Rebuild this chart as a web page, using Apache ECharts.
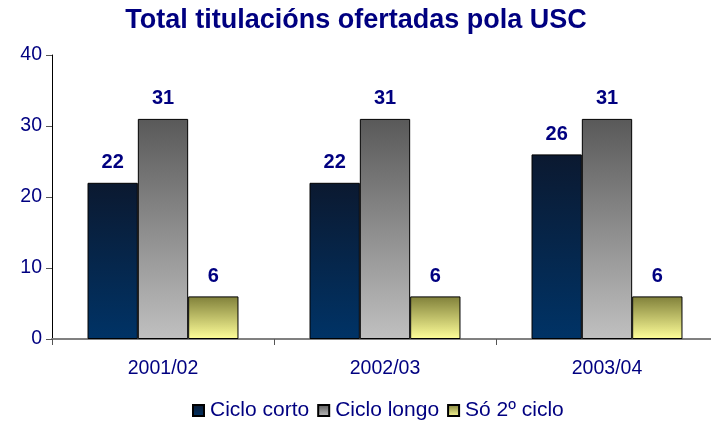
<!DOCTYPE html>
<html>
<head>
<meta charset="utf-8">
<script src="https://cdn.jsdelivr.net/npm/echarts@6/dist/echarts.min.js"></script>
<style>
  html, body { margin: 0; padding: 0; background: #fff; }
  #chart { width: 711px; height: 421px; }
</style>
</head>
<body>
<div id="chart"></div>
<script>
const categories = ["2001/02", "2002/03", "2003/04"];
const cicloCorto = [22, 22, 26];
const cicloLongo = [31, 31, 31];
const so2Ciclo = [6, 6, 6];
const yTicks = [0, 10, 20, 30, 40];

const navy = "#000080";
const font = "Liberation Sans, Arial, sans-serif";

function grad(top, bottom) {
  return new echarts.graphic.LinearGradient(0, 0, 0, 1, [
    { offset: 0, color: top },
    { offset: 1, color: bottom }
  ]);
}

function bar(name, data, colors) {
  return {
    name: name,
    type: "bar",
    data: data,
    barGap: "0%",
    barCategoryGap: "32%",
    itemStyle: { color: grad(colors[0], colors[1]), borderColor: "#000", borderWidth: 1 },
    label: {
      show: true,
      position: "top",
      distance: 10,
      color: navy,
      fontWeight: "bold",
      fontSize: 20,
      fontFamily: font
    }
  };
}

const chart = echarts.init(document.getElementById("chart"));
chart.setOption({
  animation: false,
  title: {
    text: "Total titulacións ofertadas pola USC",
    left: 351,
    textAlign: "center",
    top: 2,
    textStyle: { color: navy, fontWeight: "bold", fontSize: 27, fontFamily: font }
  },
  legend: {
    top: 395,
    left: 187,
    icon: "rect",
    itemWidth: 11,
    itemHeight: 11,
    itemGap: 8,
    textStyle: { color: navy, fontSize: 21, fontFamily: font, padding: [0, 0, 0, 1] },
    data: ["Ciclo corto", "Ciclo longo", "Só 2º ciclo"]
  },
  grid: { left: 52, right: -7, top: 55, bottom: 82, outerBoundsMode: "none" },
  xAxis: {
    type: "category",
    data: categories,
    axisLine: { lineStyle: { color: "#808080", width: 2 } },
    axisTick: { show: true, length: 6, lineStyle: { color: "#555" } },
    axisLabel: { color: navy, fontSize: 19.5, fontFamily: font, margin: 20 }
  },
  yAxis: {
    type: "value",
    min: yTicks[0],
    max: yTicks[yTicks.length - 1],
    interval: 10,
    splitLine: { show: false },
    axisLine: { show: true, lineStyle: { color: "#000", width: 1 } },
    axisTick: { show: true, length: 6, lineStyle: { color: "#555" } },
    axisLabel: { color: navy, fontSize: 19.5, fontFamily: font, margin: 10 }
  },
  series: [
    bar("Ciclo corto", cicloCorto, ["#0b1930", "#003366"]),
    bar("Ciclo longo", cicloLongo, ["#595959", "#c0c0c0"]),
    bar("Só 2º ciclo", so2Ciclo, ["#80803a", "#ffff99"])
  ]
});
</script>
</body>
</html>
